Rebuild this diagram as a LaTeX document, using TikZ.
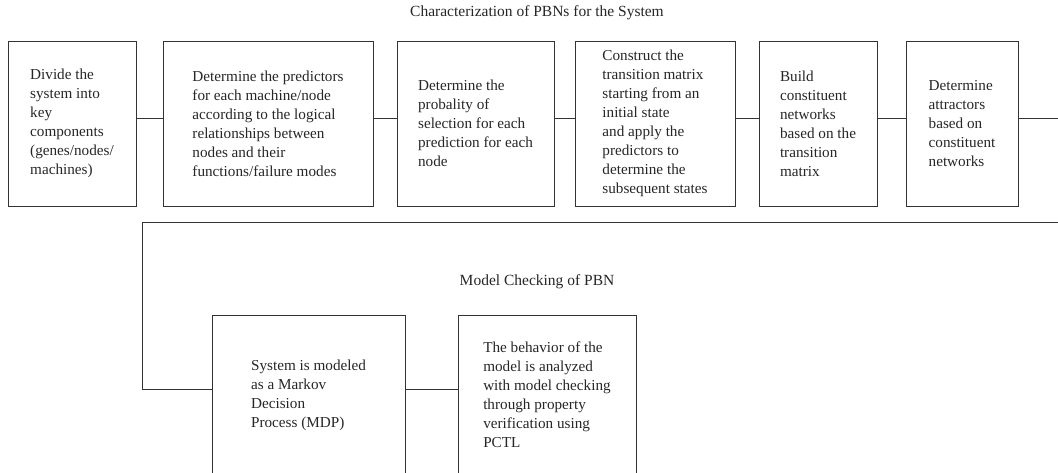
\documentclass[tikz,border=0pt]{standalone}
\usepackage{fontspec}
\setmainfont{Liberation Serif}
\begin{document}
\begin{tikzpicture}[x=1pt,y=-1pt,
  ink/.style={draw=black!80,line width=0.8pt},
  stage/.style={ink,rectangle,inner sep=0pt,align=left,text=black!85,
    font=\fontsize{15.2}{19}\selectfont},
  heading/.style={text=black!85,font=\fontsize{15.5}{18}\selectfont,inner sep=0pt},
  link/.style={ink}]
\useasboundingbox (0,0) rectangle (1058,472);

% headings
\node[heading] (h1) at (537,13) {Characterization of PBNs for the System};
\node[heading] (h2) at (537,282) {Model Checking of PBN};

% first stage: characterization chain
\node[stage,minimum width=128pt,minimum height=165pt] (b1) at (72,123.5)
  {Divide the\\system into\\key\\components\\(genes/nodes/\\machines)};
\node[stage,minimum width=210pt,minimum height=165pt] (b2) at (268,123.5)
  {Determine the predictors\\for each machine/node\\according to the logical\\relationships between\\nodes and their\\functions/failure modes};
\node[stage,minimum width=157pt,minimum height=165pt] (b3) at (475.5,123.5)
  {Determine the\\probality of\\selection for each\\prediction for each\\node};
\node[stage,minimum width=160pt,minimum height=165pt] (b4) at (655,123.5)
  {Construct the\\transition matrix\\starting from an\\initial state\\and apply the\\predictors to\\determine the\\subsequent states};
\node[stage,minimum width=118pt,minimum height=165pt] (b5) at (818,123.5)
  {Build\\constituent\\networks\\based on the\\transition\\matrix};
\node[stage,minimum width=112pt,minimum height=165pt] (b6) at (962,123.5)
  {Determine\\attractors\\based on\\constituent\\networks};

% second stage: model checking
\node[stage,minimum width=193pt,minimum height=160pt] (b7) at (308.5,395)
  {System is modeled\\as a Markov\\Decision\\Process (MDP)};
\node[stage,minimum width=178pt,minimum height=160pt] (b8) at (547,395)
  {The behavior of the\\model is analyzed\\with model checking\\through property\\verification using\\PCTL};

% connectors
\foreach \a/\b in {b1/b2,b2/b3,b3/b4,b4/b5,b5/b6}
  \draw[link] ([yshift=5.5pt]\a.east) -- ([yshift=5.5pt]\b.west);
\coordinate (r1) at (1058,118);
\coordinate (r2) at (1058,222);
\coordinate (c1) at (142,222);
\draw[link] ([yshift=5.5pt]b6.east) -- (r1);
\draw[link] (r2) -- (c1) |- ([yshift=6pt]b7.west);
\draw[link] ([yshift=6pt]b7.east) -- ([yshift=6pt]b8.west);
\end{tikzpicture}
\end{document}
